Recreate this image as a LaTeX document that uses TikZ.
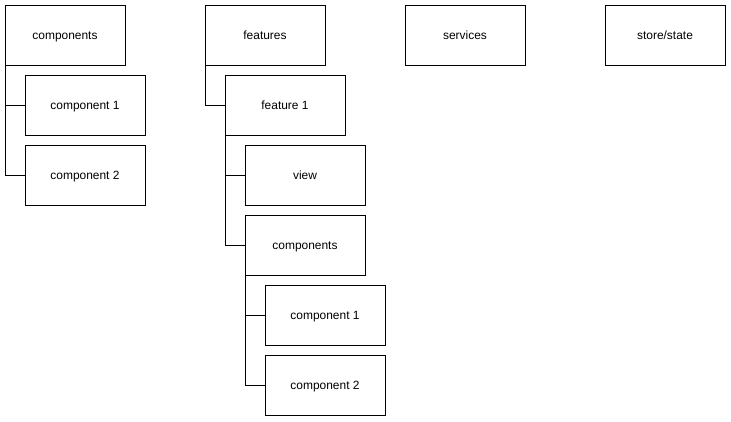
\documentclass[tikz,border=0pt]{standalone}
\usepackage{fontspec}
\setmainfont{Liberation Sans}

\begin{document}
\begin{tikzpicture}[x=0.5cm, y=-0.5cm, line width=0.7pt,
  box/.style={draw, rectangle, minimum width=3cm, minimum height=1.5cm,
    inner sep=0pt, outer sep=0pt, text height=1.6ex, text depth=0.4ex,
    font=\fontsize{8.5}{10}\selectfont}]

\useasboundingbox (0,0) rectangle (36.55, 21.05);

% Top level folders
\node (components) at (3.25, 1.75) [box] {components};
\node (features) at (13.25, 1.75) [box] {features};
\node (services) at (23.25, 1.75) [box] {services};
\node (store) at (33.25, 1.75) [box] {store/state};

% Shared components
\node (component1) at (4.25, 5.25) [box] {component 1};
\node (component2) at (4.25, 8.75) [box] {component 2};

% Feature tree
\node (feature1) at (14.25, 5.25) [box] {feature 1};
\node (view) at (15.25, 8.75) [box] {view};
\node (fcomponents) at (15.25, 12.25) [box] {components};
\node (fcomponent1) at (16.25, 15.75) [box] {component 1};
\node (fcomponent2) at (16.25, 19.25) [box] {component 2};

% Tree lines
\draw (components.south west) |- (component1.west);
\draw (components.south west) |- (component2.west);

\draw (features.south west) |- (feature1.west);

\draw (feature1.south west) |- (view.west);
\draw (feature1.south west) |- (fcomponents.west);

\draw (fcomponents.south west) |- (fcomponent1.west);
\draw (fcomponents.south west) |- (fcomponent2.west);

\end{tikzpicture}
\end{document}
